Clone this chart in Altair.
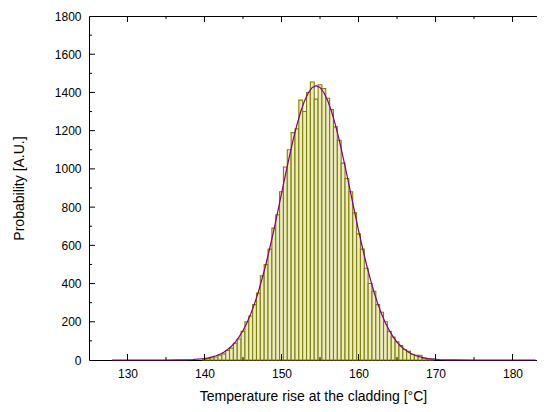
import altair as alt
import pandas as pd

# ---- data ----
bin_centers = [140.0 + 0.5 * i for i in range(60)]
bin_counts = [
    5, 8, 12, 16, 25, 32, 50, 62, 88, 110,
    150, 200, 230, 290, 350, 440, 500, 580, 690, 760,
    880, 1010, 1100, 1190, 1210, 1360, 1300, 1400, 1455, 1365,
    1440, 1420, 1370, 1310, 1220, 1150, 1030, 950, 880, 770,
    660, 580, 480, 400, 360, 290, 250, 200, 150, 120,
    95, 75, 55, 45, 30, 25, 25, 10, 6, 4,
]
bin_width = 0.5

curve_x = [128, 132, 135, 136.5, 137.5, 138.5, 139.5, 140, 140.5, 141, 141.5, 142, 142.5,
           143, 143.5, 144, 144.5, 145, 145.5, 146, 146.5, 147, 147.5, 148, 148.5,
           149, 149.5, 150, 150.5, 151, 151.5, 152, 152.5, 153, 153.5, 154, 154.5,
           155, 155.5, 156, 156.5, 157, 157.5, 158, 158.5, 159, 159.5, 160, 160.5,
           161, 161.5, 162, 162.5, 163, 163.5, 164, 164.5, 165, 165.5, 166, 166.5,
           167, 167.5, 168, 168.5, 169, 169.5, 170.5, 171.5, 172.5, 175, 180, 183]
curve_y = [0, 0, 0.1, 0.5, 1.1, 2.6, 5.5, 8, 11, 16, 22, 30, 41,
           55, 72, 94, 121, 154, 194, 241, 295, 357, 428, 505, 590,
           678, 774, 870, 967, 1060, 1150, 1230, 1300, 1357, 1400, 1426, 1435,
           1426, 1400, 1357, 1300, 1230, 1150, 1060, 967, 870, 774, 678, 590,
           505, 428, 357, 295, 241, 194, 154, 121, 94, 72, 55, 41,
           30, 22, 16, 11, 8, 5.5, 2.6, 1.1, 0.5, 0.1, 0, 0]

x_major = [130, 140, 150, 160, 170, 180]
x_minor = [135, 145, 155, 165, 175]
y_major = [200, 400, 600, 800, 1000, 1200, 1400, 1600]
y_minor = [100, 300, 500, 700, 900, 1100, 1300, 1500, 1700]
y_labels = [0, 200, 400, 600, 800, 1000, 1200, 1400, 1600, 1800]

x_title = "Temperature rise at the cladding [°C]"
y_title = "Probability [A.U.]"

# ---- tables ----
bars_df = pd.DataFrame({
    "lo": [c - bin_width / 2 for c in bin_centers],
    "hi": [c + bin_width / 2 for c in bin_centers],
    "count": bin_counts,
})
curve_df = pd.DataFrame({"x": curve_x, "y": curve_y})
xmaj_df = pd.DataFrame({"v": x_major})
xmin_df = pd.DataFrame({"v": x_minor})
ymaj_df = pd.DataFrame({"v": y_major})
ymin_df = pd.DataFrame({"v": y_minor})

W, H = 448, 344
FONT = "Liberation Sans"

xs = alt.Scale(domain=[125, 183.18], nice=False, zero=False)
ys = alt.Scale(domain=[0, 1800], nice=False)

bottom_axis = alt.Axis(values=x_major, format="d", grid=False, ticks=False, tickSize=0,
                       domainColor="black", domainWidth=1, labelFont=FONT, labelFontSize=12,
                       labelColor="black", labelPadding=8, title=x_title, titleFont=FONT,
                       titleFontSize=14, titleFontWeight="normal", titleColor="black",
                       titlePadding=10)
left_axis = alt.Axis(values=y_labels, format="d", grid=False, ticks=False,
                     tickSize=0, domainColor="black", domainWidth=1, labelFont=FONT,
                     labelFontSize=12, labelColor="black", labelPadding=8, title=y_title,
                     titleFont=FONT, titleFontSize=14, titleFontWeight="normal",
                     titleColor="black", titlePadding=28)
top_axis = alt.Axis(orient="top", grid=False, ticks=False, tickSize=0, labels=False,
                    domainColor="black", domainWidth=1, title=None)

bars = alt.Chart(bars_df).mark_rect(fill="#ececc4", stroke="#808000", strokeWidth=1.1).encode(
    x=alt.X("lo:Q", scale=xs, axis=bottom_axis),
    x2="hi:Q",
    y=alt.Y("count:Q", scale=ys, axis=left_axis),
    y2=alt.datum(0),
)

curve = alt.Chart(curve_df).mark_line(color="#800080", strokeWidth=1.2).encode(
    x=alt.X("x:Q", scale=xs, axis=top_axis),
    y=alt.Y("y:Q", scale=ys, axis=None),
)


def xrule(df, y0, y1):
    return alt.Chart(df).mark_rule(color="black", strokeWidth=1).encode(
        x=alt.X("v:Q", scale=xs, axis=None), y=alt.value(y0), y2=alt.value(y1))


def yrule(df, length):
    return alt.Chart(df).mark_rule(color="black", strokeWidth=1).encode(
        y=alt.Y("v:Q", scale=ys, axis=None), x=alt.value(0), x2=alt.value(length))


chart = alt.layer(
    bars, curve,
    xrule(xmaj_df, H, H - 6), xrule(xmin_df, H, H - 3),
    xrule(xmaj_df, 0, 6), xrule(xmin_df, 0, 3),
    yrule(ymaj_df, 6), yrule(ymin_df, 3),
).resolve_axis(x="independent", y="independent").properties(
    width=W, height=H,
    padding={"left": 81, "top": 8, "right": 0, "bottom": 44},
    autosize=alt.AutoSizeParams(type="none"),
).configure_view(stroke=None).configure(background="white")

chart.save("out.html", embed_options={"renderer": "svg", "actions": False})
